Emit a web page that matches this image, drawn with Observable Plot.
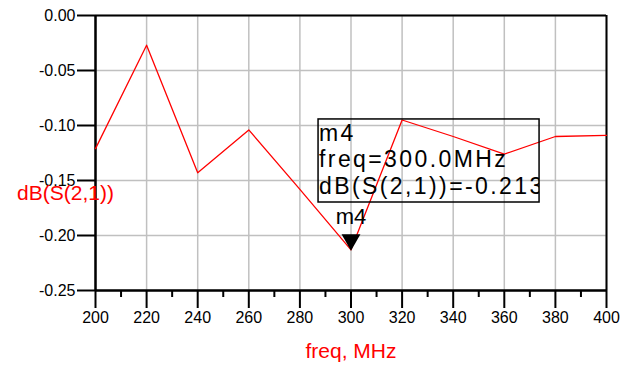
<!DOCTYPE html>
<html>
<head>
<meta charset="utf-8">
<script src="https://cdn.jsdelivr.net/npm/d3@7"></script>
<script src="https://cdn.jsdelivr.net/npm/@observablehq/plot@0.6"></script>
<style>
  html, body { margin: 0; padding: 0; background: #fff; }
  svg { display: block; }
</style>
</head>
<body>
<div id="chart"></div>
<script>
// Data
const freq = [200, 220, 240, 260, 280, 300, 320, 340, 360, 380, 400];
const dbS21 = [-0.121, -0.027, -0.143, -0.104, -0.158, -0.213, -0.095, -0.110, -0.126, -0.110, -0.109];
const xTicks = [200, 220, 240, 260, 280, 300, 320, 340, 360, 380, 400];
const xMinorTicks = [210, 230, 250, 270, 290, 310, 330, 350, 370, 390];
const yTicks = [0, -0.05, -0.10, -0.15, -0.20, -0.25];
const markerName = ["m4"];
const markerFreq = [300];
const markerValue = [-0.213];
const readoutLines = ["m4", "freq=300.0MHz", "dB(S(2,1))=-0.213"];
const yLabel = ["dB(S(2,1))"];
const xLabel = ["freq, MHz"];

const data = freq.map((f, i) => ({freq: f, v: dbS21[i]}));
const marker = markerName.map((n, i) => ({name: n, freq: markerFreq[i], v: markerValue[i]}));

const font = "'Liberation Sans', Arial, sans-serif";

const plot = Plot.plot({
  width: 625,
  height: 371,
  marginLeft: 95,
  marginRight: 19,
  marginTop: 15,
  marginBottom: 81,
  x: {domain: [200, 400]},
  y: {domain: [-0.25, 0]},
  style: {fontFamily: font, fontSize: "16px", background: "#fff", color: "#000"},
  marks: [
    Plot.gridX(xTicks, {stroke: "#c0c0c0", strokeOpacity: 1, strokeWidth: 1.5}),
    Plot.gridY(yTicks, {stroke: "#c0c0c0", strokeOpacity: 1, strokeWidth: 1.5}),
    Plot.axisY(yTicks, {tickSize: 18, tickPadding: 2, tickFormat: d => d.toFixed(2), label: null, fontSize: 16, strokeWidth: 2, stroke: "#000", fill: "#000"}),
    Plot.axisX(xMinorTicks, {tickSize: 7, tickFormat: () => "", label: null, strokeWidth: 2, stroke: "#000"}),
    Plot.axisX(xTicks, {tickSize: 18, tickPadding: 3, label: null, fontSize: 16, strokeWidth: 2, stroke: "#000", fill: "#000"}),
    Plot.ruleY([0], {stroke: "#000", strokeWidth: 2}),
    Plot.ruleX([400], {stroke: "#000", strokeWidth: 2}),
    Plot.ruleX([200], {stroke: "#000", strokeWidth: 2.5}),
    Plot.ruleY([-0.25], {stroke: "#000", strokeWidth: 2.5}),
    Plot.line(data, {x: "freq", y: "v", stroke: "#ff0000", strokeWidth: 1.3}),
    Plot.dot(marker, {x: "freq", y: "v", symbol: "triangle", rotate: 180, r: 7, fill: "#000", stroke: "none", dy: -10}),
    Plot.text(marker, {x: "freq", y: "v", text: "name", dy: -33, fontSize: 22, fill: "#000"}),
    Plot.text(yLabel, {text: d => d, frameAnchor: "left", dx: -30, dy: 40, fill: "#ff0000", fontSize: 21, textAnchor: "middle"}),
    Plot.text(xLabel, {text: d => d, frameAnchor: "bottom", dy: 67, fill: "#ff0000", fontSize: 21})
  ]
});

document.getElementById("chart").appendChild(plot);

// Marker readout box, placed in data space via the plot's own scales
const sx = plot.scale("x"), sy = plot.scale("y");
const box = {f1: 287.3, f2: 373.8, v1: -0.0945, v2: -0.170};
const bx = sx.apply(box.f1), bx2 = sx.apply(box.f2);
const by = sy.apply(box.v1), by2 = sy.apply(box.v2);
const svg = d3.select(plot);
svg.append("defs").append("clipPath").attr("id", "readoutClip")
  .append("rect").attr("x", bx).attr("y", by).attr("width", bx2 - bx).attr("height", by2 - by);
const g = svg.append("g");
g.append("rect").attr("x", bx).attr("y", by).attr("width", bx2 - bx).attr("height", by2 - by)
  .attr("fill", "none").attr("stroke", "#000").attr("stroke-width", 1.5);
g.append("g").attr("clip-path", "url(#readoutClip)")
  .selectAll("text").data(readoutLines).join("text")
  .attr("x", bx + 1)
  .attr("y", (d, i) => by + 22 + i * 26.5)
  .attr("text-anchor", "start")
  .attr("font-family", font)
  .attr("font-size", 23)
  .attr("letter-spacing", "2.4px")
  .attr("fill", "#000")
  .text(d => d);
</script>
</body>
</html>
